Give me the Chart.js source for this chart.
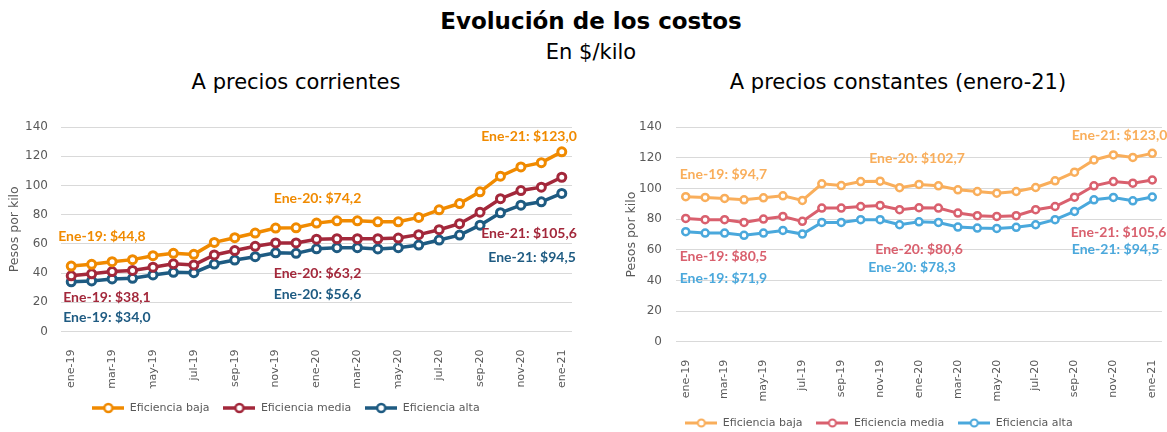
<!DOCTYPE html>
<html>
<head>
<meta charset="utf-8">
<script src="https://cdn.jsdelivr.net/npm/chart.js@4"></script>
<style>
  body { margin: 0; width: 1167px; height: 432px; overflow: hidden; background: #fff; font-family: 'DejaVu Sans', sans-serif; }
  .txt { position: absolute; text-align: center; color: #000; white-space: nowrap; }
  #title { left: 291px; width: 600px; top: 6px; line-height: 30px; font-size: 23px; font-weight: bold; }
  #unit { left: 291px; width: 600px; top: 39px; line-height: 26px; font-size: 21px; }
  #subL { left: 46px; width: 500px; top: 69px; line-height: 26px; font-size: 21px; }
  #subR { left: 648px; width: 500px; top: 69px; line-height: 26px; font-size: 21px; }
  canvas { position: absolute; }
  #left { left: 0; top: 100px; }
  #right { left: 596px; top: 100px; }
</style>
</head>
<body>
<div class="txt" id="title">Evolución de los costos</div>
<div class="txt" id="unit">En $/kilo</div>
<div class="txt" id="subL">A precios corrientes</div>
<div class="txt" id="subR">A precios constantes (enero-21)</div>
<canvas id="left" width="579" height="340"></canvas>
<canvas id="right" width="580" height="340"></canvas>
<script>
// ── Data ───────────────────────────────────────────────────────────
const months = ['ene-19', 'feb-19', 'mar-19', 'abr-19', 'may-19', 'jun-19', 'jul-19', 'ago-19',
  'sep-19', 'oct-19', 'nov-19', 'dic-19', 'ene-20', 'feb-20', 'mar-20', 'abr-20', 'may-20',
  'jun-20', 'jul-20', 'ago-20', 'sep-20', 'oct-20', 'nov-20', 'dic-20', 'ene-21'];
const seriesNames = ['Eficiencia baja', 'Eficiencia media', 'Eficiencia alta'];
const yTicks = [0, 20, 40, 60, 80, 100, 120, 140];

// a precios corrientes
const corrBaja = [44.8, 46.0, 47.8, 49.2, 51.9, 53.5, 52.8, 61.0, 64.2, 67.4, 70.8, 71.0, 74.2,
  75.8, 75.8, 75.1, 75.1, 78.1, 83.3, 87.6, 95.6, 106.3, 112.7, 115.6, 123.0];
const corrMedia = [38.1, 39.5, 41.0, 41.8, 44.0, 46.3, 45.6, 52.4, 55.4, 58.3, 60.6, 60.6, 63.2,
  63.5, 63.5, 63.5, 64.0, 66.3, 69.7, 73.8, 81.7, 90.9, 96.5, 98.8, 105.6];
const corrAlta = [34.0, 34.6, 36.0, 36.4, 38.7, 40.5, 40.3, 46.2, 48.9, 51.2, 53.9, 53.5, 56.6,
  57.4, 57.4, 56.5, 57.4, 59.2, 62.6, 66.0, 72.8, 81.3, 86.5, 88.8, 94.5];

// a precios constantes (enero-21)
const constBaja = [94.7, 94.2, 93.6, 92.7, 94.0, 95.3, 92.3, 103.1, 102.0, 104.6, 104.8, 100.6, 102.7,
  101.8, 99.2, 98.1, 97.0, 98.1, 100.7, 105.1, 110.7, 118.7, 122.0, 120.3, 123.0];
const constMedia = [80.5, 79.7, 79.7, 77.9, 80.1, 81.8, 78.6, 87.3, 87.3, 88.3, 89.0, 86.2, 87.5,
  87.3, 84.0, 82.3, 81.8, 82.3, 86.2, 88.3, 94.4, 101.8, 104.6, 103.5, 105.6];
const constAlta = [71.9, 71.0, 71.0, 69.5, 71.0, 72.7, 70.3, 77.9, 77.9, 79.7, 79.7, 76.4, 78.3,
  77.9, 74.9, 74.2, 74.0, 74.7, 76.4, 79.7, 85.1, 92.7, 94.2, 92.0, 94.5];

// annotated months (ene-19, ene-20, ene-21)
const noteMonths = [0, 12, 24];
const corrBajaNotes = ['Ene-19: $44,8', 'Ene-20: $74,2', 'Ene-21: $123,0'];
const corrMediaNotes = ['Ene-19: $38,1', 'Ene-20: $63,2', 'Ene-21: $105,6'];
const corrAltaNotes = ['Ene-19: $34,0', 'Ene-20: $56,6', 'Ene-21: $94,5'];
const constBajaNotes = ['Ene-19: $94,7', 'Ene-20: $102,7', 'Ene-21: $123,0'];
const constMediaNotes = ['Ene-19: $80,5', 'Ene-20: $80,6', 'Ene-21: $105,6'];
const constAltaNotes = ['Ene-19: $71,9', 'Ene-20: $78,3', 'Ene-21: $94,5'];

// ── Styles ─────────────────────────────────────────────────────────
const corrColors = ['#F08A00', '#A3283B', '#1E5B82'];
const constColors = ['#F9AE5B', '#D9606E', '#4AA8DC'];
const GRAY = '#595959';
const FONT = 'DejaVu Sans';

// label offsets from their point: [series][note] -> [dx, dy, align]
const corrPlace = [
  [[-13, -30, 'left'], [1, -25, 'center'], [15, -15, 'right']],
  [[-8, 22, 'left'], [1, 34, 'center'], [15, 56, 'right']],
  [[-8, 36, 'left'], [1, 46, 'center'], [14, 64, 'right']]
];
const constPlace = [
  [[-6, -22, 'left'], [-2, -26, 'center'], [15, -18, 'right']],
  [[-6, 38, 'left'], [0, 42, 'center'], [14, 52, 'right']],
  [[-6, 47, 'left'], [-7, 46, 'center'], [7, 52, 'right']]
];

// ── Legend marker (line + ring) ────────────────────────────────────
function legendMark(color, lw, r, bw) {
  const c = document.createElement('canvas');
  c.width = 32;
  c.height = 14;
  const g = c.getContext('2d');
  g.strokeStyle = color;
  g.lineWidth = lw;
  g.beginPath();
  g.moveTo(0, 7);
  g.lineTo(32, 7);
  g.stroke();
  g.beginPath();
  g.arc(16, 7, r, 0, Math.PI * 2);
  g.fillStyle = '#fff';
  g.fill();
  g.lineWidth = bw;
  g.stroke();
  return c;
}

// ── Value labels plugin ────────────────────────────────────────────
const notePlugin = {
  id: 'notes',
  afterDatasetsDraw(chart, args, opts) {
    const ctx = chart.ctx;
    opts.texts.forEach(function (list, ds) {
      const meta = chart.getDatasetMeta(ds);
      list.forEach(function (text, k) {
        const pt = meta.data[noteMonths[k]];
        const p = opts.place[ds][k];
        ctx.save();
        ctx.font = 'bold 14px Lato';
        ctx.fillStyle = chart.data.datasets[ds].borderColor;
        ctx.textAlign = p[2];
        ctx.textBaseline = 'middle';
        ctx.fillText(text, pt.x + p[0], pt.y + p[1]);
        ctx.restore();
      });
    });
  }
};

// ── Chart builder ──────────────────────────────────────────────────
function buildChart(id, series, colors, notes, place, s) {
  const marks = colors.map(function (c) { return legendMark(c, s.lw, s.r, s.bw - 0.5); });
  return new Chart(document.getElementById(id), {
    type: 'line',
    data: {
      labels: months,
      datasets: series.map(function (d, i) {
        return {
          label: seriesNames[i],
          data: d,
          borderColor: colors[i],
          backgroundColor: '#fff',
          borderWidth: s.lw,
          pointRadius: s.r,
          pointBorderWidth: s.bw,
          pointBackgroundColor: '#fff',
          pointBorderColor: colors[i],
          tension: 0,
          fill: false
        };
      })
    },
    plugins: [notePlugin],
    options: {
      responsive: false,
      animation: false,
      devicePixelRatio: 1,
      events: [],
      layout: { padding: { top: s.top, right: s.right, bottom: s.bottom, left: 0 } },
      plugins: {
        tooltip: { enabled: false },
        notes: { texts: notes, place: place },
        legend: {
          position: 'bottom',
          labels: {
            usePointStyle: true,
            pointStyleWidth: 32,
            padding: 14,
            color: GRAY,
            font: { family: FONT, size: 11 },
            generateLabels: function (chart) {
              return chart.data.datasets.map(function (d, i) {
                return {
                  text: d.label,
                  pointStyle: marks[i],
                  fillStyle: 'transparent',
                  strokeStyle: 'transparent',
                  lineWidth: 0,
                  fontColor: GRAY,
                  hidden: false,
                  datasetIndex: i
                };
              });
            }
          }
        }
      },
      scales: {
        x: {
          offset: true,
          grid: { display: false },
          border: { display: false },
          ticks: {
            autoSkip: false,
            minRotation: 90,
            maxRotation: 90,
            padding: 10,
            color: GRAY,
            font: { family: FONT, size: 11 },
            callback: function (v, i) { return i % 2 === 0 ? months[i] : ''; }
          },
          afterFit: function (sc) {
            sc.height = s.xh;
            sc.paddingLeft = 0;
            sc.paddingRight = 0;
          }
        },
        y: {
          min: yTicks[0],
          max: yTicks[yTicks.length - 1],
          afterBuildTicks: function (sc) { sc.ticks = yTicks.map(function (v) { return { value: v }; }); },
          grid: { color: '#D9D9D9', lineWidth: 1, drawTicks: false },
          border: { display: false },
          ticks: { padding: s.tp, color: GRAY, font: { family: FONT, size: 12 } },
          title: {
            display: true,
            text: 'Pesos por kilo',
            color: GRAY,
            font: { family: FONT, size: 12.5 },
            padding: { top: s.tt, bottom: 0 }
          },
          afterFit: function (sc) { sc.width = s.yw; }
        }
      }
    }
  });
}

buildChart('left', [corrBaja, corrMedia, corrAlta], corrColors,
  [corrBajaNotes, corrMediaNotes, corrAltaNotes], corrPlace,
  { lw: 3.5, r: 4, bw: 3, top: 27, right: 7, bottom: 16.5, xh: 57, yw: 61, tp: 13, tt: 7.5 });

buildChart('right', [constBaja, constMedia, constAlta], constColors,
  [constBajaNotes, constMediaNotes, constAltaNotes], constPlace,
  { lw: 3, r: 3.5, bw: 2.5, top: 27.3, right: 14, bottom: 1.5, xh: 61.7, yw: 80, tp: 14, tt: 28.2 });
</script>
</body>
</html>
